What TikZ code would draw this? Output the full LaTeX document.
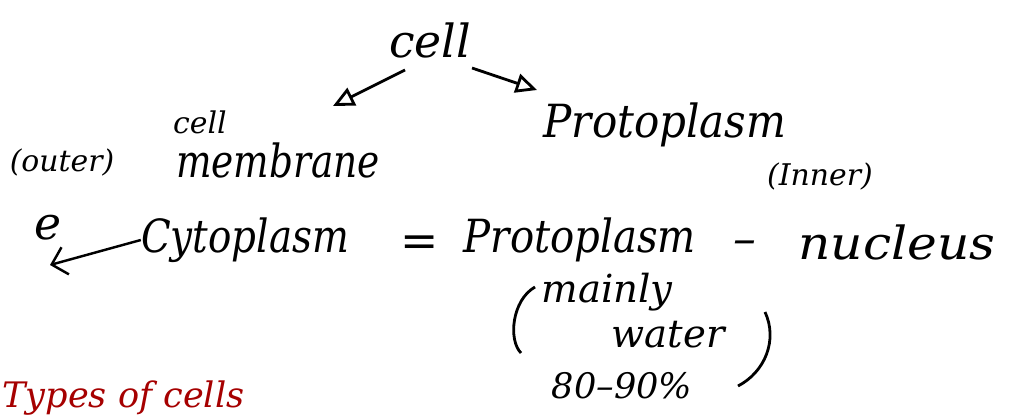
\documentclass[tikz,border=0pt]{standalone}
\usepackage{fontspec}
\setmainfont{DejaVu Serif}
\usetikzlibrary{arrows.meta}
\begin{document}
\begin{tikzpicture}[x=0.02cm,y=-0.02cm,
  hw/.style={inner sep=0pt,font=\itshape\fontsize{26}{30}\selectfont},
  hs/.style={inner sep=0pt,font=\itshape\fontsize{17}{20}\selectfont},
  hm/.style={inner sep=0pt,font=\itshape\fontsize{22}{26}\selectfont},
  ar/.style={line width=1.6pt,-{Triangle[open,length=12pt,width=11pt]}},
  paren/.style={line width=1.6pt}]
\useasboundingbox (0,0) rectangle (1017,416);
\fill[white] (0,0) rectangle (1017,416);
\node[hw] (cell) at (430,40) {cell};
\coordinate (la) at (405,70);
\coordinate (lb) at (333,106);
\coordinate (ra) at (472,68);
\coordinate (rb) at (537,90);
\draw[ar] (la) -- (lb);
\draw[ar] (ra) -- (rb);
\node[hs] (cellsmall) at (200,122) {cell};
\node[hs] (outer) at (62,162) {(outer)};
\node[hw,xscale=0.82] (membrane) at (278,160) {membrane};
\node[hw,xscale=0.92] (proto) at (665,125) {Protoplasm};
\node[hs] (inner) at (820,176) {(Inner)};
\node[hw] (e) at (48,228) {e};
\node[hw,xscale=0.85] (cyto) at (245,240) {Cytoplasm};
\draw[line width=1.4pt,-{Straight Barb[length=8pt]}] (cyto.west) -- (50,265);
\node[hw] (eq) at (420,246) {=};
\node[hw,xscale=0.88] (proto2) at (580,240) {Protoplasm};
\node[hw] (minus) at (745,248) {--};
\node[hw,xscale=1.1] (nucleus) at (897,242) {nucleus};
\draw[paren] (535,287) .. controls (512,300) and (508,340) .. (521,353);
\node[hm] (mainly) at (607,292) {mainly};
\node[hm] (water) at (668,335) {water};
\draw[paren] (765,312) .. controls (778,340) and (765,372) .. (738,386);
\node[hs,font=\itshape\fontsize{20}{24}\selectfont] (pct) at (622,386) {80--90\%};
\node[hs,font=\itshape\fontsize{20}{24}\selectfont,text=red!65!black,anchor=west] (types) at (2,398) {Types of cells};
\end{tikzpicture}
\end{document}
